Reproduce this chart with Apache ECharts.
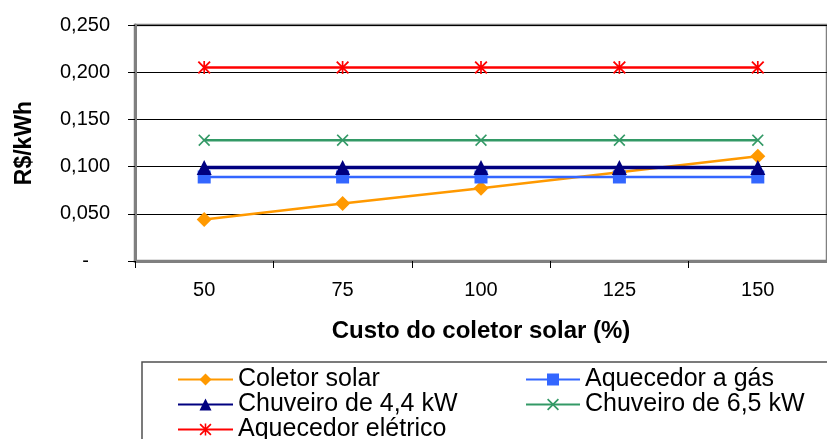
<!DOCTYPE html>
<html><head><meta charset="utf-8">
<script src="https://cdn.jsdelivr.net/npm/echarts@6/dist/echarts.min.js"></script>
<style>html,body{margin:0;padding:0;background:#fff}#c{width:827px;height:439px}</style>
</head><body><div id="c"></div>
<script>
const categories = ['50', '75', '100', '125', '150'];
const coletorSolar = [0.044, 0.061, 0.077, 0.094, 0.111];
const aquecedorGas = [0.089, 0.089, 0.089, 0.089, 0.089];
const chuveiro44 = [0.099, 0.099, 0.099, 0.099, 0.099];
const chuveiro65 = [0.128, 0.128, 0.128, 0.128, 0.128];
const aquecedorEletrico = [0.205, 0.205, 0.205, 0.205, 0.205];
const yTicks = [0, 0.05, 0.10, 0.15, 0.20, 0.25];

const FONT = '"Liberation Sans", Arial, sans-serif';
const xPath = 'path://M0,1 L1,0 L5,4 L9,0 L10,1 L6,5 L10,9 L9,10 L5,6 L1,10 L0,9 L4,5 Z';
const starPath = 'path://M0,1 L1,0 L5,4 L9,0 L10,1 L6,5 L10,9 L9,10 L5,6 L1,10 L0,9 L4,5 Z M4.35,0 L5.65,0 L5.65,10 L4.35,10 Z';

function mk(name, data, color, symbol, size, width) {
  return {
    name, type: 'line', data, symbol, symbolSize: size,
    lineStyle: { color, width }, itemStyle: { color },
    emphasis: { disabled: true }
  };
}

const legendText = { fontFamily: FONT, fontSize: 25, color: '#000', lineHeight: 24 };

const chart = echarts.init(document.getElementById('c'));
chart.setOption({
  animation: false,
  backgroundColor: '#fff',
  grid: { left: 135, top: 25, width: 699, height: 236, show: true, borderColor: '#808080', borderWidth: 2.5 },
  xAxis: {
    type: 'category', data: categories, boundaryGap: true,
    name: 'Custo do coletor solar (%)', nameLocation: 'middle', nameGap: 58,
    nameTextStyle: { fontFamily: FONT, fontSize: 24, fontWeight: 'bold', color: '#000' },
    axisLine: { lineStyle: { color: '#808080', width: 3 } },
    axisTick: { show: true, length: 7, lineStyle: { color: '#000', width: 1 } },
    axisLabel: { fontFamily: FONT, fontSize: 20, color: '#000', margin: 19 }
  },
  yAxis: {
    type: 'value', min: yTicks[0], max: yTicks[yTicks.length - 1], interval: 0.05,
    name: 'R$/kWh', nameLocation: 'middle', nameGap: 99,
    nameTextStyle: { fontFamily: FONT, fontSize: 23, fontWeight: 'bold', color: '#000' },
    axisLine: { show: true, lineStyle: { color: '#808080', width: 3 } },
    axisTick: { show: true, length: 7, lineStyle: { color: '#000', width: 1 } },
    splitLine: { show: true, lineStyle: { color: '#000', width: 1 } },
    axisLabel: {
      fontFamily: FONT, fontSize: 20, color: '#000', margin: 25,
      formatter: v => v === 0 ? '{z|-}' : v.toFixed(3).replace('.', ','),
      rich: { z: { fontFamily: FONT, fontSize: 20, color: '#000', padding: [0, 21, 0, 0] } }
    }
  },
  legend: [
    {
      orient: 'vertical', left: 177, top: 367, width: 330, height: 120, padding: 0, itemGap: 0,
      itemWidth: 55, itemHeight: 15, textStyle: legendText,
      data: ['Coletor solar', 'Chuveiro de 4,4 kW', 'Aquecedor elétrico']
    },
    {
      orient: 'vertical', left: 525, top: 367, width: 300, height: 120, padding: 0, itemGap: 0,
      itemWidth: 54, itemHeight: 15, textStyle: legendText,
      data: ['Aquecedor a gás', 'Chuveiro de 6,5 kW']
    }
  ],
  graphic: [{
    type: 'rect', shape: { x: 142, y: 362, width: 700, height: 100 },
    style: { fill: 'none', stroke: '#505050', lineWidth: 1.5 }, z: -1
  }],
  series: [
    mk('Coletor solar', coletorSolar, '#FF9900', 'diamond', 15, 2.5),
    mk('Aquecedor a gás', aquecedorGas, '#3366FF', 'rect', 13, 2.5),
    mk('Chuveiro de 4,4 kW', chuveiro44, '#000080', 'triangle', 15, 3.5),
    mk('Chuveiro de 6,5 kW', chuveiro65, '#339966', xPath, 12, 2.5),
    mk('Aquecedor elétrico', aquecedorEletrico, '#FF0000', starPath, 13, 2.5)
  ]
});
</script></body></html>
